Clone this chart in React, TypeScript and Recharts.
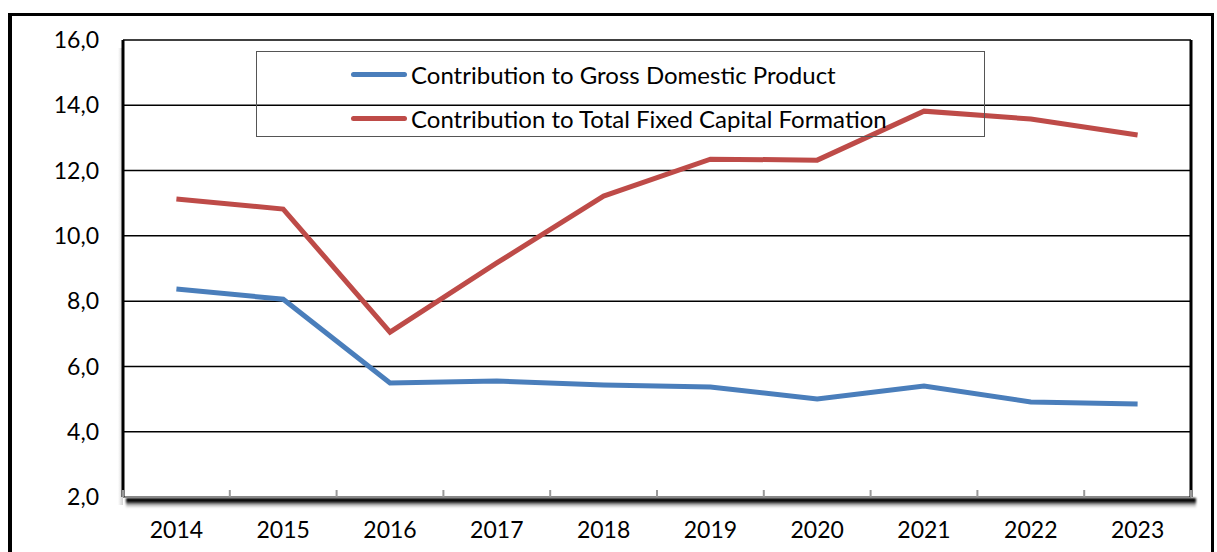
import React from "react";
import {
  LineChart,
  Line,
  XAxis,
  YAxis,
  CartesianGrid,
  Legend,
} from "recharts";

const years = ["2014", "2015", "2016", "2017", "2018", "2019", "2020", "2021", "2022", "2023"];
const gdp = [8.37, 8.06, 5.49, 5.55, 5.43, 5.37, 5.0, 5.4, 4.91, 4.85];
const capital = [11.13, 10.82, 7.05, 9.17, 11.22, 12.35, 12.32, 13.82, 13.58, 13.09];
const yTicks = [2, 4, 6, 8, 10, 12, 14, 16];

const GDP_NAME = "Contribution to Gross Domestic Product";
const CAP_NAME = "Contribution to Total Fixed Capital Formation";

const data = years.map((y, i) => ({ year: y, [GDP_NAME]: gdp[i], [CAP_NAME]: capital[i] }));

const W = 1217;
const H = 552;
const PLOT_LEFT = 123;
const PLOT_RIGHT = 1191;
const PLOT_TOP = 40;
const PLOT_BOTTOM = 497;
const HALF_BAND = (PLOT_RIGHT - PLOT_LEFT) / years.length / 2;
const FONT = "Lato, 'Open Sans', sans-serif";

function XTick(props: any) {
  const { x, y, payload, index } = props;
  const last = index === years.length - 1;
  return (
    <g>
      <line x1={x - HALF_BAND} x2={x - HALF_BAND} y1={y - 7} y2={y} stroke="#999" strokeWidth={2} />
      {last && (
        <line x1={x + HALF_BAND} x2={x + HALF_BAND} y1={y - 7} y2={y} stroke="#999" strokeWidth={2} />
      )}
      <text x={x} y={y + 41} textAnchor="middle" fontSize={23} fill="#000" fontFamily={FONT}>
        {payload.value}
      </text>
    </g>
  );
}

function LegendBox() {
  const items = [
    { name: GDP_NAME, color: "#4a7ebb" },
    { name: CAP_NAME, color: "#be4b48" },
  ];
  return (
    <div
      style={{
        width: 729,
        height: 86,
        border: "1px solid #555",
        boxSizing: "border-box",
        fontFamily: FONT,
        fontSize: 24,
        color: "#000",
        paddingLeft: 94,
        paddingTop: 0,
      }}
    >
      {items.map((it) => (
        <div key={it.name} style={{ display: "flex", alignItems: "center", height: 44, whiteSpace: "nowrap" }}>
          <span
            style={{
              display: "inline-block",
              width: 56,
              height: 5,
              borderRadius: 3,
              background: it.color,
              marginRight: 4,
            }}
          />
          <span>{it.name}</span>
        </div>
      ))}
    </div>
  );
}

export default function App() {
  return (
    <div style={{ position: "absolute", left: 0, top: 0, width: W, height: H, background: "#fff", overflow: "hidden" }}>
      {/* outer frame */}
      <div
        style={{
          position: "absolute",
          left: 8,
          top: 13,
          width: 1206,
          height: 600,
          borderLeft: "4px solid #000",
          borderTop: "3px solid #000",
          borderRight: "3px solid #000",
          boxSizing: "border-box",
        }}
      />
      {/* plot shadows */}
      <div
        style={{
          position: "absolute",
          left: PLOT_LEFT + 3,
          top: PLOT_BOTTOM + 1,
          width: PLOT_RIGHT - PLOT_LEFT + 2,
          height: 10,
          background: "linear-gradient(#000 0%, #000 30%, rgba(0,0,0,0.3) 65%, rgba(0,0,0,0) 100%)",
          filter: "blur(1px)",
        }}
      />
      <div
        style={{
          position: "absolute",
          left: PLOT_LEFT - 5,
          top: PLOT_TOP + 8,
          width: 5,
          height: PLOT_BOTTOM - PLOT_TOP,
          background: "linear-gradient(to left, rgba(0,0,0,0.18), rgba(0,0,0,0))",
        }}
      />
      <div style={{ position: "absolute", left: 0, top: 0 }}>
        <LineChart
          width={W}
          height={H}
          data={data}
          margin={{ top: PLOT_TOP, right: W - PLOT_RIGHT - 2, bottom: 0, left: 0 }}
        >
          <CartesianGrid yAxisId="left" vertical={false} stroke="#000" strokeWidth={1.5} />
          <XAxis
            dataKey="year"
            height={H - PLOT_BOTTOM}
            padding={{ left: HALF_BAND, right: HALF_BAND }}
            tickLine={false}
            tickSize={0}
            tickMargin={0}
            axisLine={{ stroke: "#888", strokeWidth: 2 }}
            tick={<XTick />}
            interval={0}
          />
          <YAxis
            yAxisId="left"
            width={PLOT_LEFT}
            domain={[2, 16]}
            ticks={yTicks}
            tickLine={false}
            tickSize={0}
            tickMargin={24}
            axisLine={{ stroke: "#000", strokeWidth: 3 }}
            tick={{ fontSize: 23, fill: "#000", fontFamily: FONT }}
            tickFormatter={(v: number) => v.toFixed(1).replace(".", ",")}
          />
          <YAxis
            yAxisId="right"
            orientation="right"
            width={2}
            domain={[2, 16]}
            ticks={yTicks}
            tick={false}
            tickLine={false}
            axisLine={{ stroke: "#000", strokeWidth: 3 }}
          />
          <Legend
            content={<LegendBox />}
            layout="vertical"
            align="center"
            verticalAlign="middle"
            wrapperStyle={{ left: 256, top: 51, width: 729, height: 86 }}
          />
          <Line
            yAxisId="left"
            type="linear"
            dataKey={GDP_NAME}
            stroke="#4a7ebb"
            strokeWidth={5}
            dot={false}
            isAnimationActive={false}
          />
          <Line
            yAxisId="left"
            type="linear"
            dataKey={CAP_NAME}
            stroke="#be4b48"
            strokeWidth={5}
            dot={false}
            isAnimationActive={false}
          />
        </LineChart>
      </div>
    </div>
  );
}
